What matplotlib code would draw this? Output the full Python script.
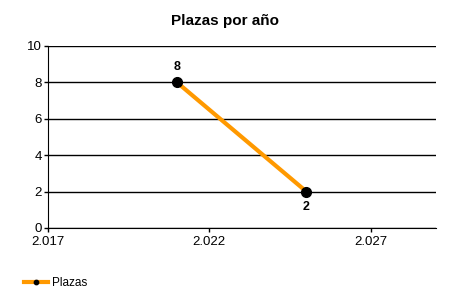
import matplotlib
import matplotlib.pyplot as plt
from matplotlib.ticker import FuncFormatter

matplotlib.use('Agg')
plt.rc('font', family=['Liberation Sans', 'DejaVu Sans'])

years = [2021, 2025]
plazas = [8, 2]
x_ticks = [2017, 2022, 2027]
y_ticks = [0, 2, 4, 6, 8, 10]
series_label = 'Plazas'
title = 'Plazas por año'


def thousands(x, pos):
    return '{:,.0f}'.format(x).replace(',', '.')


def main():
    fig = plt.figure(figsize=(4.5, 3), dpi=100)
    ax = fig.add_axes([0.1056, 0.24, 0.863, 0.6067])

    ax.plot(years, plazas, color='#ff9900', linewidth=3, marker='o', markersize=7,
            markerfacecolor='black', markeredgecolor='black', label=series_label, zorder=3)
    for x, y in zip(years, plazas):
        off = 11 if y == max(plazas) else -11
        ax.annotate(str(y), (x, y), xytext=(0, off), textcoords='offset points',
                    ha='center', va='center', fontsize=9, fontweight='bold')

    ax.set_xlim(2017, 2029)
    ax.set_ylim(0, 10)
    ax.set_xticks(x_ticks)
    ax.set_yticks(y_ticks)
    ax.xaxis.set_major_formatter(FuncFormatter(thousands))
    ax.yaxis.grid(True, color='black', linewidth=1)
    ax.set_axisbelow(True)
    for s in ['top', 'right']:
        ax.spines[s].set_visible(False)
    ax.tick_params(labelsize=9.5, length=3, width=1, pad=1)
    ax.tick_params(axis='x', pad=3)

    fig.suptitle(title, x=0.5, y=0.955, fontsize=11, fontweight='bold')
    fig.legend(loc='lower left', bbox_to_anchor=(0.03, 0.0), frameon=False,
               fontsize=8.5, handlelength=2, markerscale=0.45, handletextpad=0.4)

    fig.savefig('out.png', dpi=100)


if __name__ == '__main__':
    main()
